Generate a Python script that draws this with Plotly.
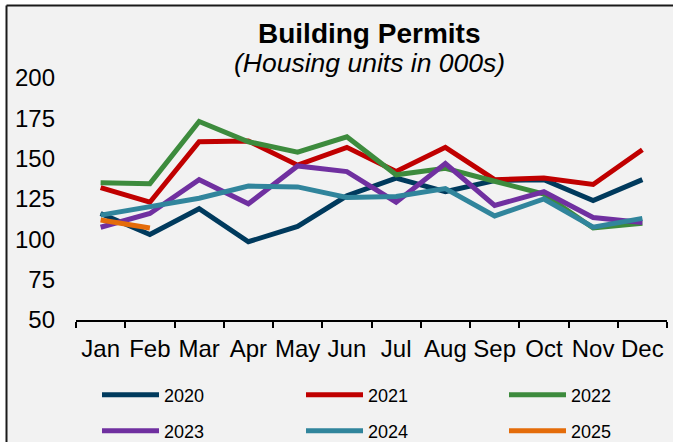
import plotly.graph_objects as go

months = ["Jan", "Feb", "Mar", "Apr", "May", "Jun", "Jul", "Aug", "Sep", "Oct", "Nov", "Dec"]
y2020 = [116, 103, 119, 98.5, 108, 127, 138, 129.5, 136.5, 137, 124, 137]
y2021 = [132, 123, 160.5, 161, 146, 157, 142, 157, 137, 138, 134, 155.5]
y2022 = [135, 134.5, 173, 160.5, 154, 163.5, 140, 144, 136, 128, 107, 110]
y2023 = [107.5, 116, 137, 122, 145.5, 142, 123, 147, 121, 129.5, 113.5, 110.5]
y2024 = [115, 120, 125.5, 133, 132.5, 126, 126.5, 131.5, 114.5, 125, 107.5, 113]
y2025 = [112, 107]
y_ticks = [50, 75, 100, 125, 150, 175, 200]

series = [
    ("2020", y2020, "#003A5D"),
    ("2021", y2021, "#C00000"),
    ("2022", y2022, "#3D8B3D"),
    ("2023", y2023, "#7030A0"),
    ("2024", y2024, "#31859C"),
    ("2025", y2025, "#E46C0A"),
]

FONT = "Liberation Sans, Arial, sans-serif"
W, H = 673, 442
L, R, T, B = 76, 6, 78, 122
PW, PH = W - L - R, H - T - B

def px_x(px):
    return (px - L) / PW

def px_y(py):
    return (H - B - py) / PH

# legend slot positions (pixel) for a 3-column, 2-row legend
col_px = [97, 301, 504]
row_px = [395, 431]

fig = go.Figure()
layout_legends = {}
for i, (name, vals, color) in enumerate(series):
    lg = "legend" if i == 0 else f"legend{i + 1}"
    fig.add_trace(go.Scatter(
        x=months[:len(vals)], y=vals, name=name, mode="lines",
        line=dict(color=color, width=5), legend=lg,
    ))
    layout_legends[lg] = dict(
        xref="container", yref="container",
        x=col_px[i % 3] / W, y=(H - row_px[i // 3]) / H,
        xanchor="left", yanchor="middle", itemwidth=57,
        font=dict(family=FONT, size=18, color="black"),
        bgcolor="rgba(0,0,0,0)",
    )

border = dict(color="#1a1a1a", width=2)
fig.update_layout(
    width=W, height=H,
    margin=dict(l=L, r=R, t=T, b=B, autoexpand=False),
    paper_bgcolor="#F2F2F2",
    plot_bgcolor="rgba(0,0,0,0)",
    font=dict(family=FONT, color="black"),
    showlegend=True,
    xaxis=dict(
        type="category", range=[-0.5, 11.5], showgrid=False, automargin=False,
        showline=True, linecolor="black", linewidth=2, tickangle=0,
        ticks="outside", tickson="boundaries", ticklen=6, tickwidth=2, tickcolor="black",
        ticklabelstandoff=6,
        tickfont=dict(family=FONT, size=24, color="black"),
        fixedrange=True,
    ),
    yaxis=dict(
        range=[50, 200], tickvals=y_ticks, showgrid=False, zeroline=False,
        showline=False, ticks="", ticklabelstandoff=20, automargin=False,
        tickfont=dict(family=FONT, size=24, color="black"),
        fixedrange=True,
    ),
    shapes=[
        # white outer strips (outside the chart frame)
        dict(type="rect", xref="paper", yref="paper", layer="below",
             x0=px_x(-5), x1=px_x(W + 5), y0=px_y(-5), y1=px_y(5.5),
             line=dict(width=0), fillcolor="white"),
        dict(type="rect", xref="paper", yref="paper", layer="below",
             x0=px_x(-5), x1=px_x(6.5), y0=px_y(-5), y1=px_y(H + 5),
             line=dict(width=0), fillcolor="white"),
        dict(type="line", xref="paper", yref="paper", layer="below",
             x0=px_x(6.5), x1=px_x(W + 5), y0=px_y(5.5), y1=px_y(5.5), line=border),
        dict(type="line", xref="paper", yref="paper", layer="below",
             x0=px_x(6.5), x1=px_x(6.5), y0=px_y(5.5), y1=px_y(H + 5), line=border),
    ],
    annotations=[
        dict(text="<b>Building Permits</b>", xref="paper", yref="paper",
             x=px_x(369), y=px_y(33), xanchor="center", yanchor="middle",
             showarrow=False, font=dict(family=FONT, size=28, color="black")),
        dict(text="<i>(Housing units in 000s)</i>", xref="paper", yref="paper",
             x=px_x(369), y=px_y(63), xanchor="center", yanchor="middle",
             showarrow=False, font=dict(family=FONT, size=26.5, color="black")),
    ],
    **layout_legends,
)

fig.write_html(
    "out.html",
    config={"displayModeBar": False},
    post_script="document.body.style.margin='0';document.body.style.overflow='hidden';",
)
